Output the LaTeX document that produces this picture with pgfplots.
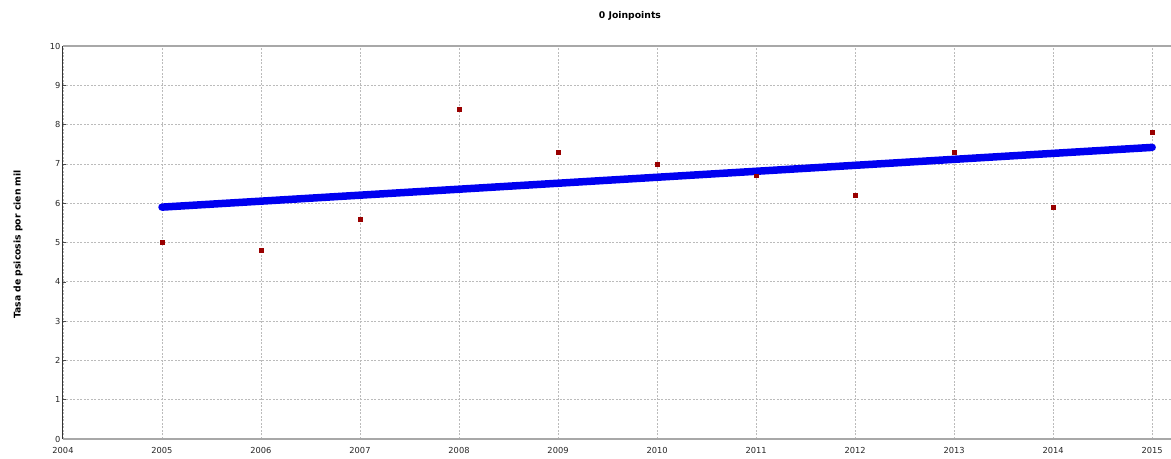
\documentclass[border=0pt]{standalone}
\usepackage{pgfplots}
\pgfplotsset{compat=1.18}
\usepackage{fontspec}
\setmainfont{DejaVu Sans}
\definecolor{ptred}{HTML}{990000}
\definecolor{lineblue}{HTML}{0000F0}
\definecolor{gridgray}{HTML}{BBBBBB}
\definecolor{spinegray}{HTML}{A8A8A8}
\begin{document}
\begin{tikzpicture}[x=1bp,y=1bp]
\begin{axis}[
  scale only axis,
  width=1108bp, height=393bp,
  xmin=2004, xmax=2015.19,
  ymin=0, ymax=10,
  xtick={2004,...,2015},
  ytick={0,...,10},
  xticklabel style={/pgf/number format/1000 sep={}},
  /pgf/number format/assume math mode=true,
  tick label style={font=\fontsize{8.3}{10}\selectfont, text=black!85},
  grid=major,
  major grid style={gridgray, dash pattern=on 2bp off 1.5bp, line width=0.7bp},
  axis line style={draw=none},
  major tick length=3bp,
  tick style={black!70, line width=0.5bp},
  xtick style={draw=none},
  ytick pos=left,
  xtick pos=bottom,
  xticklabel shift=5bp,
  yticklabel shift=-1bp,
  clip=false,
]
\addplot[lineblue, line width=7.5bp, line cap=round] coordinates {(2005,5.90) (2015,7.42)};
\addplot[only marks, mark=square*, mark size=1.9bp, ptred, mark options={draw=ptred, fill=ptred}] coordinates {
(2005,5.0) (2006,4.8) (2007,5.6) (2008,8.4) (2009,7.3) (2010,7.0)
(2011,6.7) (2012,6.2) (2013,7.3) (2014,5.9) (2015,7.8)};
\draw[spinegray, line width=2.4bp] (rel axis cs:0,1) -- (rel axis cs:1,1);
\draw[spinegray, line width=2.4bp] (rel axis cs:0,0) -- (rel axis cs:1,0);
\draw[black!80, line width=1bp] (rel axis cs:0,0) -- (rel axis cs:0,1);
\coordinate (sw) at (rel axis cs:0,0);
\coordinate (ne) at (rel axis cs:1,1);
\node[font=\bfseries\fontsize{9.3}{11}\selectfont, anchor=center] at ([yshift=30bp]rel axis cs:0.5117,1) {0 Joinpoints};
\node[font=\bfseries\fontsize{9.3}{11}\selectfont, rotate=90, anchor=center] at ([xshift=-45bp]rel axis cs:0,0.495) {Tasa de psicosis por cien mil};
\end{axis}
\pgfresetboundingbox
\path[use as bounding box] ([xshift=-63bp,yshift=-20bp]sw) rectangle ([yshift=46bp]ne);
\end{tikzpicture}
\end{document}
